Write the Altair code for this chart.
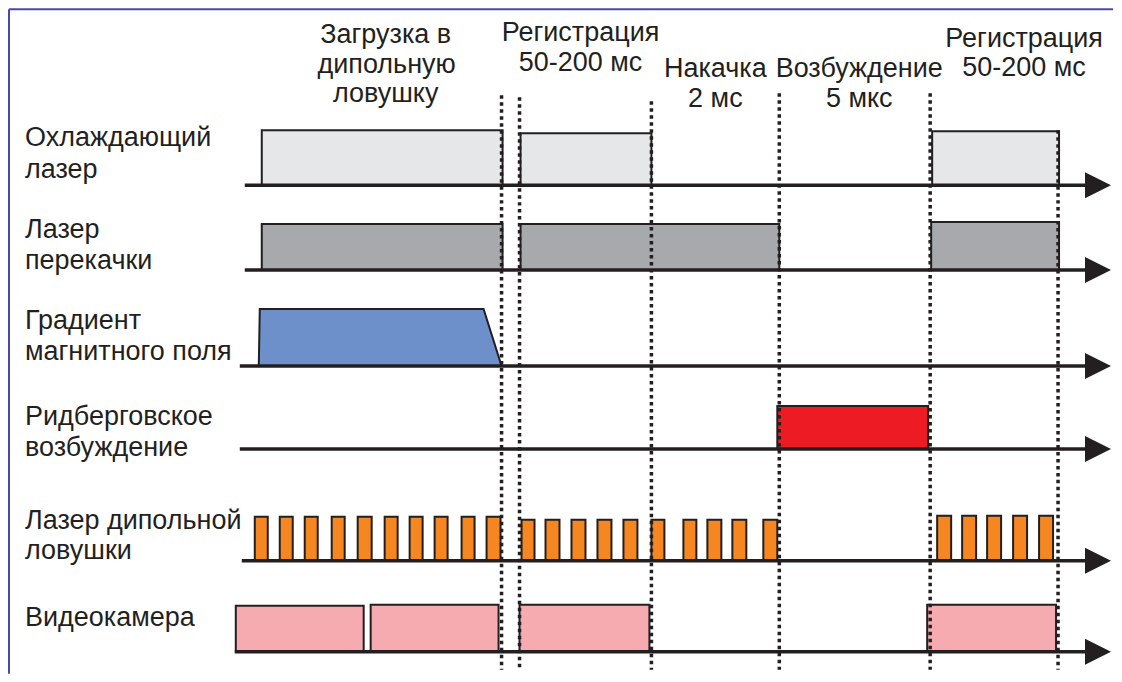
import altair as alt
import pandas as pd

# ---- data (x: schematic time, y: vertical position, downward) ----
row_names = ["cool", "repump", "grad", "ryd", "dipole", "camera"]
row_base = [185, 270, 366, 449, 561, 652]
row_start = [245, 245, 240, 240, 242, 235]
row_fill = ["#e6e7e8", "#a7a9ac", "#6d8fca", "#ed1c24", "#f6861f", "#f6abb0"]

# pulses: start, end, top
cool_pulses = [(262, 503, 130), (521, 652, 133), (933, 1060, 131)]
repump_pulses = [(262, 503, 224), (521, 780, 224), (932, 1060, 222)]
ryd_pulses = [(778, 929, 406)]
dip_starts = [255, 280, 305, 332, 358, 385, 410, 435, 462, 487,
              522, 546, 572, 598, 624, 652, 684, 708, 733, 764,
              938, 963, 988, 1014, 1040]
dip_ends = [268, 293, 318, 345, 372, 398, 423, 448, 475, 501,
            535, 560, 586, 612, 638, 665, 697, 722, 747, 778,
            952, 977, 1002, 1028, 1054]
dip_tops = [517] * 10 + [520] * 10 + [516] * 5
cam_pulses = [(236, 364, 606), (371, 499, 605), (520, 650, 605), (928, 1057, 605)]

grad_x = [259, 260, 484, 502]
grad_y = [366, 309, 309, 366]

dotted_x = [502, 520, 652, 780, 931, 1059]
dotted_top = [95, 97, 101, 93, 93, 130]
dotted_bottom = 670

row_labels = [
    ("Охлаждающий", 138), ("лазер", 170),
    ("Лазер", 230), ("перекачки", 261),
    ("Градиент", 321), ("магнитного поля", 352),
    ("Ридберговское", 417), ("возбуждение", 448),
    ("Лазер дипольной", 521), ("ловушки", 551),
    ("Видеокамера", 618),
]
phase_labels = [
    ("Загрузка в", 386, 35), ("дипольную", 387, 65), ("ловушку", 386, 94),
    ("Регистрация", 581, 33), ("50-200 мс", 581, 63),
    ("Накачка", 716, 69), ("2 мс", 716, 99),
    ("Возбуждение", 860, 69), ("5 мкс", 860, 99),
    ("Регистрация", 1025, 39), ("50-200 мс", 1025, 68),
]

# ---- build tables ----
pulse_rows = []
for s, e, t in cool_pulses:
    pulse_rows.append(dict(row="cool", x=s, x2=e, y=t, y2=row_base[0]))
for s, e, t in repump_pulses:
    pulse_rows.append(dict(row="repump", x=s, x2=e, y=t, y2=row_base[1]))
for s, e, t in ryd_pulses:
    pulse_rows.append(dict(row="ryd", x=s, x2=e, y=t, y2=row_base[3]))
for s, e, t in zip(dip_starts, dip_ends, dip_tops):
    pulse_rows.append(dict(row="dipole", x=s, x2=e, y=t, y2=row_base[4]))
for s, e, t in cam_pulses:
    pulse_rows.append(dict(row="camera", x=s, x2=e, y=t, y2=row_base[5]))
pulses = pd.DataFrame(pulse_rows)

grad = pd.DataFrame(dict(x=grad_x, y=grad_y, y2=[row_base[2]] * 4))
axes_df = pd.DataFrame(dict(row=row_names, x=row_start, x2=[1090] * 6, y=row_base, tip=[1099] * 6))
dots = pd.DataFrame(dict(x=dotted_x, y=dotted_top, y2=[dotted_bottom] * 6))
rl = pd.DataFrame([dict(text=t, x=25, y=y) for t, y in row_labels])
pl = pd.DataFrame([dict(text=t, x=x, y=y) for t, x, y in phase_labels])
frame_v = pd.DataFrame(dict(x=[9], y=[9], y2=[674]))
frame_h = pd.DataFrame(dict(x=[9], x2=[1114], y=[9]))


def XX(field="x"):
    return alt.X(f"{field}:Q", scale=alt.Scale(domain=[8, 1114]), axis=None)


def YY(field="y"):
    return alt.Y(f"{field}:Q", scale=alt.Scale(domain=[8, 674], reverse=True), axis=None)


INK = "#231f20"
FONT = "Liberation Sans"
FRAME = "#4a4aa6"
FS = 27

pulse_layer = alt.Chart(pulses).mark_rect(stroke=INK, strokeWidth=2).encode(
    x=XX(), x2="x2:Q", y=YY(), y2="y2:Q",
    fill=alt.Fill("row:N", scale=alt.Scale(domain=row_names, range=row_fill), legend=None),
)
grad_layer = alt.Chart(grad).mark_area(stroke=INK, strokeWidth=2, fill="#6d8fca", opacity=1).encode(
    x=XX(), y=YY(), y2="y2:Q"
)
axis_layer = alt.Chart(axes_df).mark_rule(color=INK, strokeWidth=3.5).encode(
    x=XX(), x2="x2:Q", y=YY()
)
arrow_layer = alt.Chart(axes_df).mark_point(
    shape="M-1,-1L1,0L-1,1Z", size=676, filled=True, color=INK, opacity=1, strokeWidth=0
).encode(x=XX("tip"), y=YY())
dot_layer = alt.Chart(dots).mark_rule(color=INK, strokeWidth=3.5, strokeDash=[3.5, 3.5]).encode(
    x=XX(), y=YY(), y2="y2:Q"
)
row_text = alt.Chart(rl).mark_text(align="left", baseline="middle", font=FONT, fontSize=FS, color=INK).encode(
    x=XX(), y=YY(), text="text:N"
)
phase_text = alt.Chart(pl).mark_text(align="center", baseline="middle", font=FONT, fontSize=FS, color=INK).encode(
    x=XX(), y=YY(), text="text:N"
)
fv = alt.Chart(frame_v).mark_rule(color=FRAME, strokeWidth=2).encode(
    x=XX(), y=YY(), y2="y2:Q"
)
fh = alt.Chart(frame_h).mark_rule(color=FRAME, strokeWidth=2).encode(
    x=XX(), x2="x2:Q", y=YY()
)

chart = alt.layer(
    fv, fh, pulse_layer, grad_layer, axis_layer, arrow_layer, dot_layer, row_text, phase_text
).properties(
    width=1106, height=666, padding=0, background="white"
).configure_view(stroke=None)

chart.save("out.html", embed_options={"renderer": "svg", "actions": False})
